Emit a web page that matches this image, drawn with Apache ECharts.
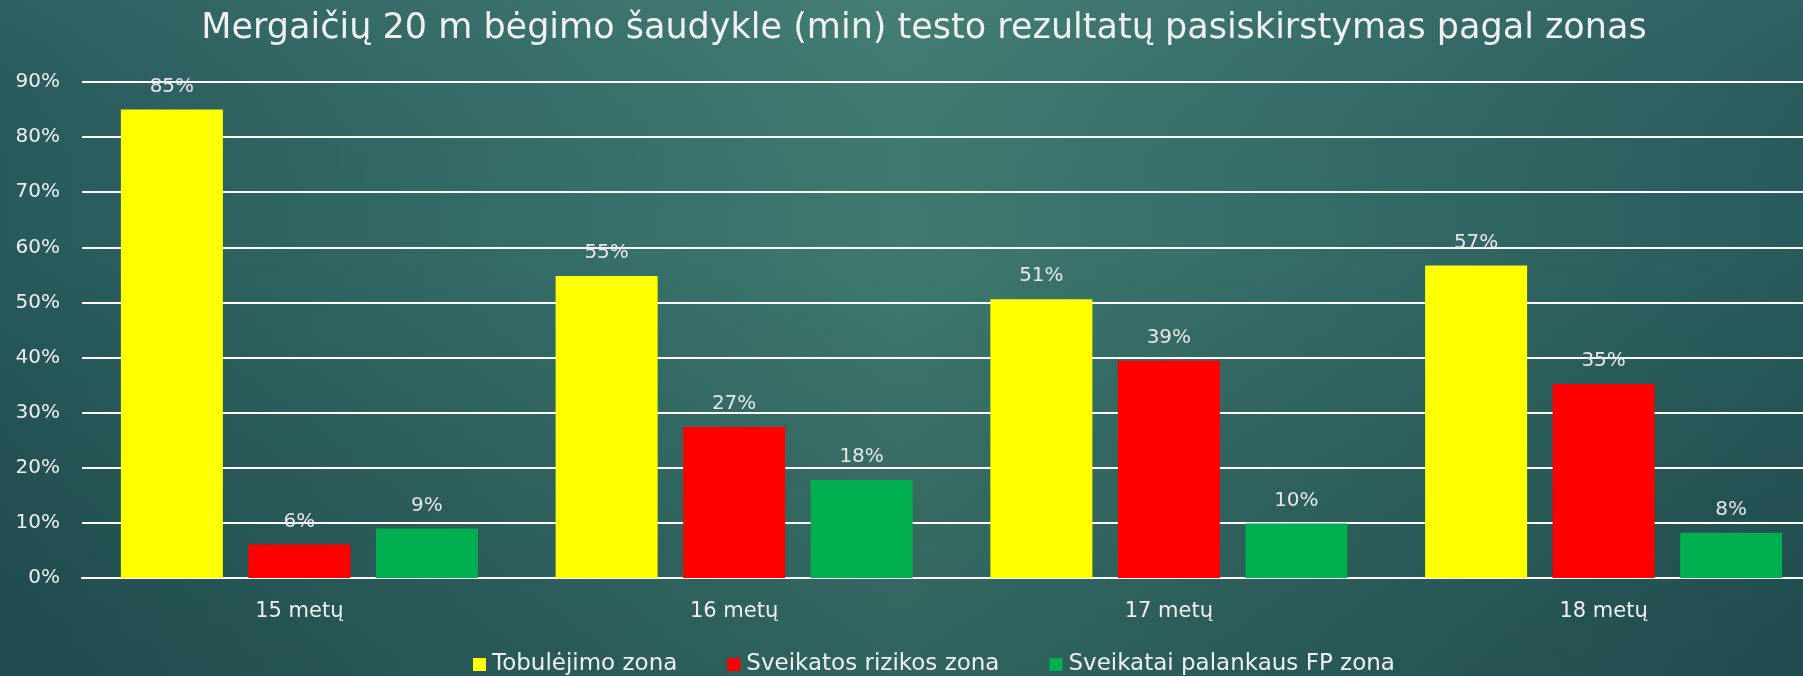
<!DOCTYPE html>
<html>
<head>
<meta charset="utf-8">
<script src="https://cdn.jsdelivr.net/npm/echarts@6/dist/echarts.min.js"></script>
<style>
  html, body { margin: 0; padding: 0; }
  #chart { width: 1803px; height: 676px; }
</style>
</head>
<body>
<div id="chart"></div>
<script>
const categories = ['15 metų', '16 metų', '17 metų', '18 metų']
const seriesNames = ['Tobulėjimo zona', 'Sveikatos rizikos zona', 'Sveikatai palankaus FP zona']
const tobulejimo = [85.0, 54.8, 50.6, 56.7]
const rizikos = [6.1, 27.4, 39.4, 35.2]
const palankaus = [9.0, 17.8, 9.9, 8.2]
const colors = ['#ffff00', '#ff0000', '#00b050']
const yTicks = [0, 10, 20, 30, 40, 50, 60, 70, 80, 90]

const font = 'DejaVu Sans'
const textColor = '#f0f0f0'

const chart = echarts.init(document.getElementById('chart'))

const label = {
  show: true,
  position: 'top',
  distance: 13,
  color: '#e6e6e6',
  fontFamily: font,
  fontSize: 20,
  formatter: (p) => Math.round(p.value) + '%'
}

chart.setOption({
  // slide background: lighter teal in the middle, darker toward edges and bottom
  backgroundColor: {
    type: 'linear', x: 0, y: 0, x2: 1, y2: 0,
    colorStops: [
      { offset: 0, color: '#275a5c' },
      { offset: 0.5, color: '#3e7a70' },
      { offset: 1, color: '#285b5d' }
    ]
  },
  graphic: [{
    type: 'rect',
    z: -10,
    silent: true,
    shape: { x: 0, y: 0, width: 1803, height: 676 },
    style: {
      fill: {
        type: 'linear', x: 0, y: 0, x2: 0, y2: 1,
        colorStops: [
          { offset: 0, color: 'rgba(255,255,255,0.03)' },
          { offset: 0.35, color: 'rgba(0,0,0,0)' },
          { offset: 1, color: 'rgba(0,20,30,0.22)' }
        ]
      }
    }
  }],
  animation: false,
  title: {
    text: 'Mergaičių 20 m bėgimo šaudykle (min) testo rezultatų pasiskirstymas pagal zonas',
    left: 919,
    textAlign: 'center',
    top: 6,
    textStyle: { color: textColor, fontFamily: font, fontSize: 35, fontWeight: 'normal' }
  },
  legend: {
    data: seriesNames,
    left: 473,
    top: 653,
    padding: 0,
    itemWidth: 13,
    itemHeight: 13,
    itemGap: 50,
    icon: 'rect',
    textStyle: { color: textColor, fontFamily: font, fontSize: 23, padding: [0, 0, 0, 1] }
  },
  grid: { left: 82, top: 82, width: 1739, height: 496, containLabel: false, outerBoundsMode: 'none' },
  xAxis: {
    type: 'category',
    data: categories,
    axisLine: { lineStyle: { color: '#ffffff', width: 2 } },
    axisTick: { show: false },
    axisLabel: { color: textColor, fontFamily: font, fontSize: 21, margin: 23 }
  },
  yAxis: {
    type: 'value',
    min: yTicks[0],
    max: yTicks[yTicks.length - 1],
    interval: 10,
    axisLine: { show: false },
    axisTick: { show: false },
    axisLabel: { color: textColor, fontFamily: font, fontSize: 20, margin: 22, formatter: '{value}%' },
    splitLine: { lineStyle: { color: '#ffffff', width: 2 } }
  },
  series: [
    { name: seriesNames[0], type: 'bar', data: tobulejimo, itemStyle: { color: colors[0] }, barWidth: 102, barGap: '25%', label },
    { name: seriesNames[1], type: 'bar', data: rizikos, itemStyle: { color: colors[1] }, barWidth: 102, barGap: '25%', label },
    { name: seriesNames[2], type: 'bar', data: palankaus, itemStyle: { color: colors[2] }, barWidth: 102, barGap: '25%', label }
  ]
})
</script>
</body>
</html>
